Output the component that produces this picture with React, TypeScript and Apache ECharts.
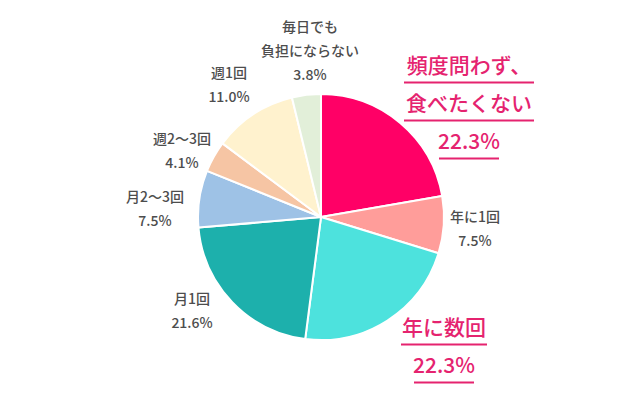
import React, { useEffect, useRef } from 'react';
import * as echarts from 'echarts';

const categories = [
  '頻度問わず、\n食べたくない',
  '年に1回',
  '年に数回',
  '月1回',
  '月2〜3回',
  '週2〜3回',
  '週1回',
  '毎日でも\n負担にならない',
];
const values = [22.3, 7.5, 22.3, 21.6, 7.5, 4.1, 11.0, 3.8];
const highlighted = [true, false, true, false, false, false, false, false];

const colors = ['#FF0066', '#FF9D9A', '#4DE2DD', '#1DB0AC', '#9EC2E6', '#F6C5A4', '#FFF2CE', '#E2EFD9'];
// label centres (px) and underline widths for the highlighted labels
const labelPos = [
  [469, 107],
  [475, 228],
  [444, 350],
  [192, 310],
  [155, 208],
  [182, 150],
  [229, 84],
  [310, 50],
];
const underlineW = [130, 0, 86, 0, 0, 0, 0, 0];

export default function App() {
  const chartRef = useRef<HTMLDivElement>(null);

  useEffect(() => {
    if (!chartRef.current) return;
    const chart = echarts.init(chartRef.current, null, { renderer: 'svg' });

    chart.setOption({
      animation: false,
      backgroundColor: '#ffffff',
      series: [
        {
          type: 'pie',
          center: [321, 217],
          radius: 123,
          startAngle: 90,
          clockwise: true,
          itemStyle: { borderColor: '#ffffff', borderWidth: 2 },
          labelLine: { show: false },
          label: {
            show: true,
            position: 'outside',
            formatter: (p: any) => {
              const i = p.dataIndex;
              const pct = values[i].toFixed(1) + '%';
              if (highlighted[i]) {
                const lines = categories[i].split('\n');
                const out: string[] = [];
                lines.forEach((l) => {
                  out.push(`{big|${l}}`);
                  out.push(`{ul${i}|}`);
                });
                out.push(`{big|${pct}}`);
                out.push(`{ulp|}`);
                return out.join('\n');
              }
              return categories[i].split('\n').map((l) => `{small|${l}}`).join('\n') + `\n{small|${pct}}`;
            },
            rich: {
              small: {
                fontSize: 14,
                fontWeight: 500,
                lineHeight: 24,
                color: '#4d4d4d',
                fontFamily: '"Noto Sans CJK JP", sans-serif',
                align: 'center',
              },
              big: {
                fontSize: 21,
                fontWeight: 500,
                lineHeight: 27,
                color: '#E5236F',
                fontFamily: '"Noto Sans CJK JP", sans-serif',
                align: 'center',
              },
              ul0: { width: underlineW[0], height: 2, lineHeight: 11, backgroundColor: '#E5236F', align: 'center' },
              ul2: { width: underlineW[2], height: 2, lineHeight: 11, backgroundColor: '#E5236F', align: 'center' },
              ulp: { width: 60, height: 2, lineHeight: 11, backgroundColor: '#E5236F', align: 'center' },
            },
          },
          labelLayout: (params: any) => {
            const pos = labelPos[params.dataIndex];
            return { x: pos[0], y: pos[1], align: 'center', verticalAlign: 'middle' };
          },
          data: values.map((v, i) => ({
            value: v,
            name: categories[i],
            itemStyle: { color: colors[i] },
          })),
        },
      ],
    });

    return () => {
      chart.dispose();
    };
  }, []);

  return (
    <div style={{ position: 'fixed', left: 0, top: 0, width: 640, height: 413, background: '#fff' }}>
      <div ref={chartRef} style={{ width: '100%', height: '100%' }} />
    </div>
  );
}
